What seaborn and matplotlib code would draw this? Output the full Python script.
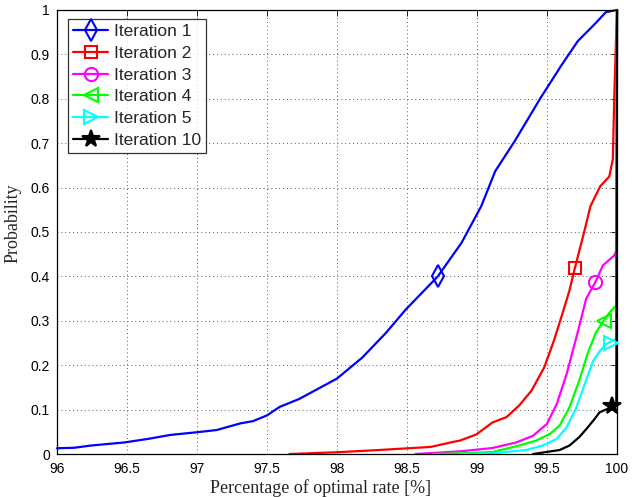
import matplotlib
matplotlib.use("Agg")
import matplotlib.pyplot as plt
from matplotlib.lines import Line2D
import seaborn as sns

# CDF curves (x: % of optimal rate, y: probability)
iter1_x = [96.0, 96.12, 96.24, 96.48, 96.65, 96.81, 97.0, 97.14, 97.31, 97.40, 97.5, 97.59,
           97.73, 98.0, 98.18, 98.35, 98.49, 98.72, 98.89, 99.03, 99.13, 99.27, 99.45,
           99.6, 99.72, 99.84, 99.92, 100.0]
iter1_y = [0.013, 0.014, 0.019, 0.026, 0.034, 0.043, 0.049, 0.054, 0.069, 0.074, 0.087, 0.106,
           0.124, 0.17, 0.217, 0.273, 0.325, 0.40, 0.476, 0.558, 0.637, 0.705, 0.80,
           0.874, 0.93, 0.968, 0.995, 1.0]

iter2_x = [97.66, 98.0, 98.3, 98.67, 98.84, 98.876, 98.995, 99.11, 99.21, 99.30, 99.39, 99.48,
           99.55, 99.61, 99.66, 99.70, 99.77, 99.81, 99.88, 99.945, 99.97, 99.98, 99.995, 100.0]
iter2_y = [0.0, 0.004, 0.009, 0.016, 0.028, 0.030, 0.044, 0.071, 0.083, 0.109, 0.143, 0.195,
           0.256, 0.316, 0.368, 0.42, 0.506, 0.558, 0.603, 0.625, 0.664, 0.80, 0.957, 1.0]

iter3_x = [98.56, 98.88, 99.11, 99.28, 99.40, 99.50, 99.57, 99.64, 99.71, 99.78, 99.845,
           99.90, 99.98, 99.998, 100.0]
iter3_y = [0.0, 0.006, 0.0135, 0.026, 0.041, 0.068, 0.113, 0.18, 0.263, 0.35, 0.387,
           0.425, 0.447, 0.46, 1.0]

iter4_x = [98.68, 98.88, 99.11, 99.30, 99.42, 99.52, 99.59, 99.66, 99.73, 99.79, 99.85,
           99.905, 99.95, 99.995, 100.0]
iter4_y = [0.0, 0.0015, 0.0045, 0.019, 0.030, 0.045, 0.064, 0.105, 0.165, 0.226, 0.274,
           0.30, 0.32, 0.335, 1.0]

iter5_x = [98.88, 99.11, 99.35, 99.47, 99.57, 99.64, 99.71, 99.77, 99.83, 99.88, 99.92,
           99.995, 100.0]
iter5_y = [0.0, 0.0015, 0.009, 0.019, 0.034, 0.06, 0.105, 0.158, 0.21, 0.233, 0.247,
           0.26, 1.0]

iter10_x = [99.40, 99.59, 99.66, 99.73, 99.78, 99.83, 99.876, 99.92, 99.967, 99.995, 100.0]
iter10_y = [0.0, 0.009, 0.019, 0.038, 0.056, 0.075, 0.094, 0.10, 0.107, 0.109, 1.0]

# single marker per curve
marker_x = [98.72, 99.70, 99.845, 99.905, 99.96, 99.967]
marker_y = [0.40, 0.42, 0.387, 0.30, 0.25, 0.107]

labels = ['Iteration 1', 'Iteration 2', 'Iteration 3', 'Iteration 4', 'Iteration 5', 'Iteration 10']
xticks = [96, 96.5, 97, 97.5, 98, 98.5, 99, 99.5, 100]
xticklabels = ['96', '96.5', '97', '97.5', '98', '98.5', '99', '99.5', '100']
yticks = [0, 0.1, 0.2, 0.3, 0.4, 0.5, 0.6, 0.7, 0.8, 0.9, 1]
yticklabels = ['0', '0.1', '0.2', '0.3', '0.4', '0.5', '0.6', '0.7', '0.8', '0.9', '1']

curves = [(iter1_x, iter1_y), (iter2_x, iter2_y), (iter3_x, iter3_y),
          (iter4_x, iter4_y), (iter5_x, iter5_y), (iter10_x, iter10_y)]
colors = ['#0000ff', '#ff0000', '#ff00ff', '#00ff00', '#00ffff', '#000000']
markers = ['d', 's', 'o', '<', '>', '*']
msizes = [11, 8, 9.5, 10, 10, 13]
filled = [False, False, False, False, False, True]

sns.set_style("white")
plt.rcParams['font.family'] = ['Liberation Sans', 'DejaVu Sans']

fig = plt.figure(figsize=(6.32, 4.97), dpi=100)
ax = fig.add_axes([0.0902, 0.0865, 0.8861, 0.8934])

for (xs, ys), c in zip(curves, colors):
    sns.lineplot(x=xs, y=ys, color=c, lw=1.6, ax=ax, sort=False, estimator=None,
                 legend=False, clip_on=False)

for i in range(len(marker_x)):
    ax.plot(marker_x[i], marker_y[i], marker=markers[i], ms=msizes[i], mew=1.5,
            mec=colors[i], mfc=colors[i] if filled[i] else 'none', ls='none',
            clip_on=False, zorder=4)

ax.set_xlim(96, 100)
ax.set_ylim(0, 1)
ax.set_xticks(xticks)
ax.set_xticklabels(xticklabels)
ax.set_yticks(yticks)
ax.set_yticklabels(yticklabels)
ax.tick_params(direction='in', length=4, width=0.6, top=True, right=True,
               labelsize=10, colors='black')
ax.tick_params(axis='x', pad=5.5)
ax.tick_params(axis='y', pad=5)
ax.grid(True, color='0.35', linestyle=(0, (1, 3)), lw=0.7)
for s in ax.spines.values():
    s.set_color('black')
    s.set_linewidth(0.9)

ax.set_xlabel('Percentage of optimal rate [%]', family='Liberation Serif', fontsize=13)
ax.set_ylabel('Probability', family='Liberation Serif', fontsize=13)
ax.xaxis.set_label_coords(0.47, -0.056, transform=ax.transAxes)
ax.xaxis.label.set_va('top')
ax.yaxis.label.set_va('center')
ax.yaxis.set_label_coords(-0.078, 0.52, transform=ax.transAxes)

handles = [Line2D([0], [0], color=colors[i], lw=1.6, marker=markers[i], ms=msizes[i], mew=1.5,
                  mec=colors[i], mfc=colors[i] if filled[i] else 'none')
           for i in range(len(labels))]
leg = ax.legend(handles, labels, loc='upper left', bbox_to_anchor=(0.0196, 0.98),
                borderaxespad=0, fontsize=12.5, frameon=True, fancybox=False,
                handlelength=2.0, handletextpad=0.35, labelspacing=0.38,
                borderpad=0.3)
leg.get_frame().set_edgecolor('black')
leg.get_frame().set_linewidth(0.9)

fig.savefig('out.png', dpi=100)
